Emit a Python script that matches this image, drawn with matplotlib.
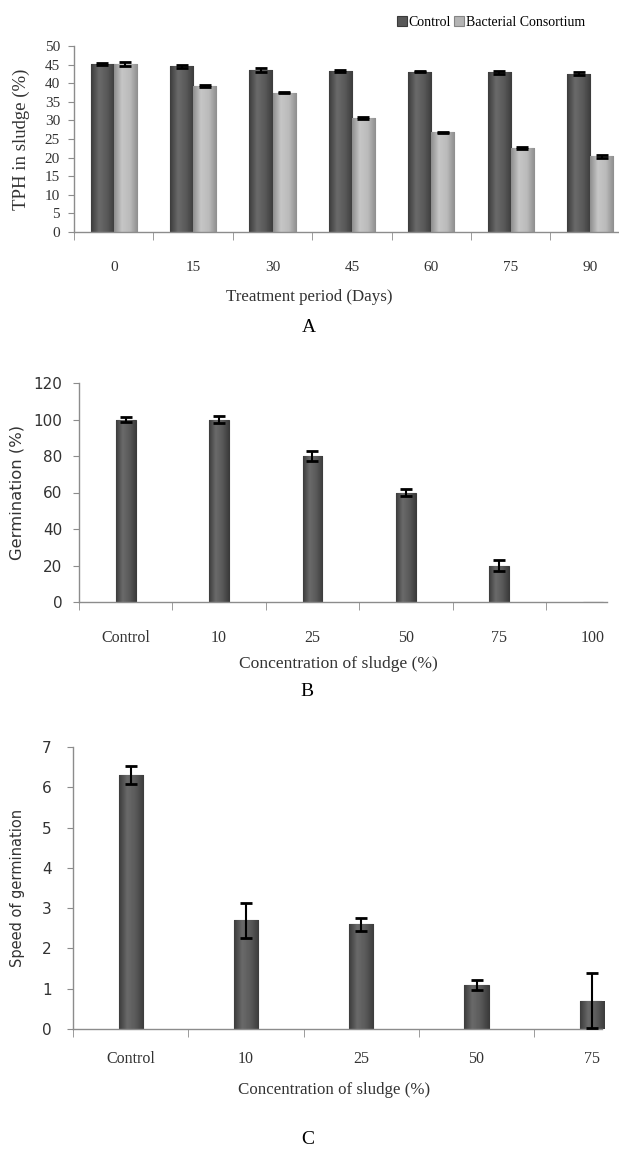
import numpy as np
import matplotlib
matplotlib.use('Agg')
from matplotlib import pyplot as plt
from matplotlib.colors import LinearSegmentedColormap

# panel A - TPH in sludge
days = ['0', '15', '30', '45', '60', '75', '90']
tph_control = [45.2, 44.5, 43.6, 43.3, 43.1, 42.9, 42.6]
tph_control_err = [0.3, 0.3, 0.5, 0.2, 0.2, 0.3, 0.3]
tph_consortium = [45.2, 39.3, 37.5, 30.6, 26.8, 22.5, 20.3]
tph_consortium_err = [0.6, 0.3, 0.2, 0.2, 0.2, 0.3, 0.5]

# panel B - germination
conc_b = ['Control', '10', '25', '50', '75', '100']
germination = [100, 100, 80, 60, 20, 0]
germination_err = [1.5, 2.0, 2.5, 2.0, 3.0, 0]

# panel C - speed of germination
conc_c = ['Control', '10', '25', '50', '75']
speed = [6.3, 2.7, 2.6, 1.1, 0.7]
speed_err = [0.22, 0.43, 0.16, 0.12, 0.68]

serif = ['Liberation Serif', 'DejaVu Serif']
sans = ['DejaVu Sans']
axis_col = '#8c8c8c'
dark_cmap = LinearSegmentedColormap.from_list('dk', ['#3c3c3c', '#6a6a6a', '#5a5a5a', '#3c3c3c'])
light_cmap = LinearSegmentedColormap.from_list('lt', ['#8e8e8e', '#c6c6c6', '#bbbbbb', '#8e8e8e'])
grad = np.linspace(0, 1, 64).reshape(1, -1)

fig = plt.figure(figsize=(6.19, 11.58), dpi=100)


def shade(ax, bars, cmap):
    # horizontal gradient inside every bar
    for p in bars:
        x0, y0 = p.get_xy()
        if p.get_height() <= 0:
            continue
        im = ax.imshow(grad, extent=[x0, x0 + p.get_width(), y0, y0 + p.get_height()],
                       aspect='auto', cmap=cmap, zorder=2.1, interpolation='bilinear')
        im.set_clip_path(p)


def style_axes(ax, n, pad, ypad, tickfont, tsize):
    for s in ['top', 'right']:
        ax.spines[s].set_visible(False)
    for s in ['left', 'bottom']:
        ax.spines[s].set_color(axis_col)
        ax.spines[s].set_linewidth(1.0)
    ax.set_xticks(range(n))
    ax.set_xticks(np.arange(-0.5, n, 1), minor=True)
    ax.tick_params(axis='x', which='major', length=0, pad=pad)
    ax.tick_params(axis='x', which='minor', length=6, color=axis_col, direction='out')
    ax.tick_params(axis='y', length=4, color=axis_col, direction='out', pad=ypad)
    for lab in ax.get_yticklabels():
        lab.set_family(tickfont)
        lab.set_fontsize(tsize)
        lab.set_color('#333333')


# ---- A ----
axA = fig.add_axes([74 / 619, 1 - 232 / 1158, 545 / 619, 186 / 1158])
x = np.arange(len(days))
w = 0.29
b1 = axA.bar(x - w / 2, tph_control, w, color='#585858', edgecolor='#3a3a3a', linewidth=0.8,
             label='Control', zorder=2)
b2 = axA.bar(x + w / 2, tph_consortium, w, color='#b4b4b4', edgecolor='#858585', linewidth=0.8,
             label='Bacterial Consortium', zorder=2)
shade(axA, b1, dark_cmap)
shade(axA, b2, light_cmap)
axA.errorbar(x - w / 2, tph_control, yerr=tph_control_err, fmt='none', ecolor='black',
             elinewidth=1.5, capsize=4, capthick=2, zorder=3)
axA.errorbar(x + w / 2, tph_consortium, yerr=tph_consortium_err, fmt='none', ecolor='black',
             elinewidth=1.5, capsize=4, capthick=2, zorder=3)
style_axes(axA, len(days), 21, 6, serif, 11)
axA.set_ylim(0, 50)
axA.set_yticks(range(0, 51, 5))
axA.set_xlim(-0.5, -0.5 + 545 / 79.4)
axA.set_xticklabels(days, family=serif, fontsize=11, color='#333333')
axA.set_ylabel('TPH in sludge (%)', family=serif, fontsize=13.5, color='#333333')
axA.yaxis.set_label_coords(-0.08, 0.5)
fig.legend(loc='center right', bbox_to_anchor=(0.965, 1 - 22 / 1158), ncol=2,
           frameon=False, prop={'family': serif, 'size': 10},
           handlelength=0.7, handleheight=0.7, handletextpad=0.15, columnspacing=0.2)
fig.text(309 / 619, 1 - 297 / 1158, 'Treatment period (Days)', ha='center', va='center',
         family=serif, fontsize=12.2, color='#333333')
fig.text(309 / 619, 1 - 328 / 1158, 'A', ha='center', va='center', family=serif, fontsize=14)

# ---- B ----
axB = fig.add_axes([79 / 619, 1 - 602 / 1158, 528 / 619, 219 / 1158])
xb = np.arange(len(conc_b))
bb = axB.bar(xb, germination, 0.21, color='#585858', edgecolor='#3a3a3a', linewidth=0.8, zorder=2)
shade(axB, bb, dark_cmap)
axB.errorbar(xb[:-1], germination[:-1], yerr=germination_err[:-1], fmt='none', ecolor='black',
             elinewidth=1.5, capsize=4, capthick=2, zorder=3)
style_axes(axB, len(conc_b), 20, 8, sans, 11)
axB.set_ylim(0, 120)
axB.set_yticks(range(0, 121, 20))
axB.set_xlim(-0.5, -0.5 + 528 / 93.4)
axB.set_xticklabels(conc_b, family=serif, fontsize=11.5, color='#333333')
axB.set_ylabel('Germination (%)', family=sans, fontsize=11.8, color='#333333')
axB.yaxis.set_label_coords(-0.104, 0.5)
fig.text(338 / 619, 1 - 664 / 1158, 'Concentration of sludge (%)', ha='center', va='center',
         family=serif, fontsize=12.6, color='#333333')
fig.text(307 / 619, 1 - 691 / 1158, 'B', ha='center', va='center', family=serif, fontsize=14)

# ---- C ----
axC = fig.add_axes([73 / 619, 1 - 1029 / 1158, 529 / 619, 282 / 1158])
xc = np.arange(len(conc_c))
bc = axC.bar(xc, speed, 0.21, color='#585858', edgecolor='#3a3a3a', linewidth=0.8, zorder=2)
shade(axC, bc, dark_cmap)
axC.errorbar(xc, speed, yerr=speed_err, fmt='none', ecolor='black',
             elinewidth=1.5, capsize=4, capthick=2, zorder=3)
style_axes(axC, len(conc_c), 16, 11.5, sans, 11)
axC.set_ylim(0, 7)
axC.set_yticks(range(0, 8))
axC.set_xlim(-0.5, -0.5 + 529 / 115.3)
axC.set_xticklabels(conc_c, family=serif, fontsize=11.5, color='#333333')
axC.set_ylabel('Speed of germination', family=sans, fontsize=10.5, color='#333333')
axC.yaxis.set_label_coords(-0.09, 0.5)
fig.text(334 / 619, 1 - 1090 / 1158, 'Concentration of sludge (%)', ha='center', va='center',
         family=serif, fontsize=12.2, color='#333333')
fig.text(308 / 619, 1 - 1139 / 1158, 'C', ha='center', va='center', family=serif, fontsize=14)

plt.savefig('out.png', dpi=100)
